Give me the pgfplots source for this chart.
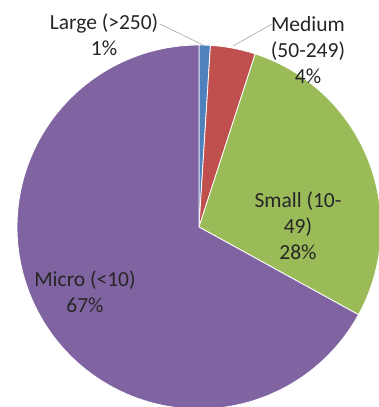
\documentclass[border=0pt]{standalone}
\usepackage{pgfplots}
\pgfplotsset{compat=1.18}
\usepackage{fontspec}
\setmainfont{Carlito}

\definecolor{cLarge}{HTML}{4F81BD}
\definecolor{cMedium}{HTML}{C0504D}
\definecolor{cSmall}{HTML}{9BBB59}
\definecolor{cMicro}{HTML}{8064A2}

% pie centre and radius (axis units = pt)
\def\cx{199}
\def\cy{180}
\def\rad{182}

% \slice{cumulative share before}{share}{colour}: clockwise from 12 o'clock
\newcommand{\slice}[3]{%
  \addplot[fill=#3, draw=white, line width=0.8pt, samples=120,
    domain={90-3.6*(#1+#2)}:{90-3.6*(#1)}]
    ({\cx+\rad*cos(x)},{\cy+\rad*sin(x)}) -- (axis cs:\cx,\cy) -- cycle;
}

\begin{document}
\begin{tikzpicture}
\begin{axis}[
  scale only axis, width=379pt, height=407pt,
  xmin=0, xmax=379, ymin=0, ymax=407,
  hide axis, clip=true,
]
% shares in percent: Large 1, Medium 4, Small 28, Micro 67
\slice{0}{1}{cLarge}
\slice{1}{4}{cMedium}
\slice{5}{28}{cSmall}
\slice{33}{67}{cMicro}

% leader lines
\addplot[gray!70, line width=0.6pt] coordinates {(160,383) (203,362)};
\addplot[gray!70, line width=0.6pt] coordinates {(272,383) (233,361)};

\begin{scope}[every node/.style={align=center, text=black!85,
    font=\fontsize{21.5}{26}\selectfont}]
\node at (axis cs:104,372) {Large (>250)\\1\%};
\node at (axis cs:308,357) {Medium\\(50-249)\\4\%};
\node at (axis cs:298,181) {Small (10-\\49)\\28\%};
\node at (axis cs:85,115) {Micro (<10)\\67\%};
\end{scope}
\end{axis}
\pgfresetboundingbox
\useasboundingbox (current axis.south west) rectangle (current axis.north east);
\end{tikzpicture}
\end{document}
